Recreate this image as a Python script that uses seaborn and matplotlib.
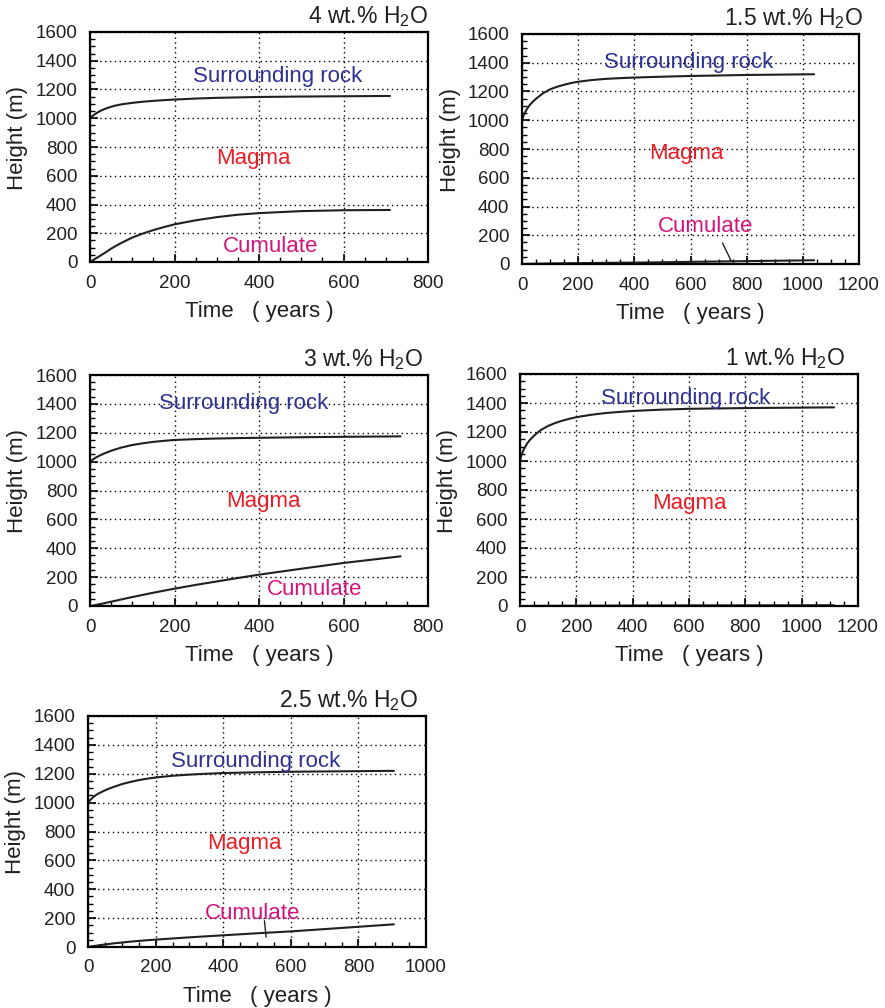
import numpy as np
import pandas as pd
import matplotlib
matplotlib.use("Agg")
import matplotlib.pyplot as plt
from matplotlib.ticker import MultipleLocator
import seaborn as sns

# ---------------- data ----------------
titles = ["4 wt.% H$_2$O", "1.5 wt.% H$_2$O", "3 wt.% H$_2$O", "1 wt.% H$_2$O", "2.5 wt.% H$_2$O"]
xmax_list = [800, 1200, 800, 1200, 1000]

t_4 = [0, 5, 10, 15, 25, 35, 50, 60, 75, 100, 125, 150, 175, 200, 250, 300, 350, 400, 500, 600, 710]
rock_4 = [1000, 1013, 1025, 1035, 1052, 1065, 1080, 1088, 1097, 1107, 1115, 1121, 1126, 1130,
          1137, 1142, 1145, 1148, 1151, 1153, 1155]
cum_4 = [0, 9, 18, 27, 45, 63, 93, 110, 134, 170, 198, 222, 243, 262, 290, 312, 329, 340, 354, 360, 362]

t_15 = [0, 5, 10, 15, 25, 35, 50, 60, 75, 100, 125, 150, 175, 200, 250, 300, 350, 400, 500, 600, 800, 1040]
rock_15 = [1000, 1030, 1052, 1070, 1100, 1122, 1150, 1165, 1188, 1215, 1233, 1247, 1259, 1268,
           1280, 1288, 1293, 1297, 1303, 1308, 1315, 1320]
cum_15 = [0, 0.3, 0.5, 0.8, 1, 1.5, 2, 2.5, 3, 4, 4.5, 5, 5.5, 6, 7, 8, 9, 10, 12, 15, 20, 26]

t_3 = [0, 5, 10, 15, 25, 35, 50, 60, 75, 100, 125, 150, 175, 200, 250, 300, 350, 400, 500, 600, 735]
rock_3 = [1000, 1011, 1021, 1030, 1045, 1058, 1075, 1085, 1098, 1115, 1127, 1137, 1144, 1150,
          1156, 1160, 1163, 1165, 1169, 1172, 1175]
cum_3 = [0, 2, 5, 8, 14, 20, 30, 36, 46, 62, 77, 92, 106, 120, 146, 170, 194, 217, 258, 298, 344]

t_1 = [0, 5, 10, 15, 25, 35, 50, 60, 75, 100, 125, 150, 175, 200, 250, 300, 350, 400, 500, 600, 800, 1115]
rock_1 = [1000, 1040, 1065, 1085, 1120, 1145, 1175, 1192, 1215, 1242, 1262, 1278, 1291, 1302,
          1318, 1330, 1338, 1345, 1354, 1360, 1365, 1370]
cum_1 = [0, 0, 0, 0, 0.2, 0.3, 0.5, 0.6, 0.8, 1, 1.2, 1.4, 1.6, 1.8, 2.1, 2.4, 2.7, 3, 3.5, 4, 4.5, 5]

t_25 = [0, 5, 10, 15, 25, 35, 50, 60, 75, 100, 125, 150, 175, 200, 250, 300, 350, 400, 500, 600, 750, 905]
rock_25 = [1000, 1014, 1026, 1037, 1055, 1068, 1085, 1095, 1108, 1128, 1143, 1156, 1166, 1174,
           1186, 1194, 1200, 1205, 1210, 1214, 1217, 1220]
cum_25 = [0, 2, 4, 6, 9, 13, 17, 20, 25, 31, 37, 42, 47, 51, 59, 67, 74, 81, 95, 108, 132, 157]

series = [(t_4, rock_4, cum_4), (t_15, rock_15, cum_15), (t_3, rock_3, cum_3),
          (t_1, rock_1, cum_1), (t_25, rock_25, cum_25)]

# label positions (data coords): rock, magma, cumulate (None = no label)
label_pos = [
    [(444, 1288), (386, 719), (427, 111)],
    [(594, 1399), (586, 768), (654, 262)],
    [(363, 1403), (411, 726), (531, 116)],
    [(589, 1433), (600, 707), None],
    [(495, 1286), (464, 716), (486, 231)],
]
# leader lines from the "Cumulate" label to its curve
leaders = {1: ([714, 745], [146, 20]), 4: ([522, 527], [182, 68])}

# ---------------- style ----------------
sns.set_style("white")
plt.rcParams['font.family'] = ['Liberation Sans', 'DejaVu Sans']
plt.rcParams['mathtext.fontset'] = 'custom'
plt.rcParams['mathtext.rm'] = 'Liberation Sans'
plt.rcParams['mathtext.it'] = 'Liberation Sans:italic'
plt.rcParams['mathtext.bf'] = 'Liberation Sans:bold'

line_col = "#231F20"
rock_col = "#2E3192"
magma_col = "#ED1C24"
cum_col = "#D4147E"

fig = plt.figure(figsize=(8.85, 10.08), dpi=100)
W, H = 885, 1008
boxes = [(90, 32, 428, 262), (522, 34, 859, 264), (90, 375, 428, 606),
         (520, 374, 858, 606), (88, 716, 426, 947)]
title_dx = [0, 4, -5, -13, -8]

for i, (x0, y0, x1, y1) in enumerate(boxes):
    ax = fig.add_axes([x0 / W, (H - y1) / H, (x1 - x0) / W, (y1 - y0) / H])
    t, rock, cum = series[i]
    df = pd.DataFrame({"Time": t, "rock": rock, "cum": cum})
    sns.lineplot(data=df, x="Time", y="rock", ax=ax, color=line_col, lw=1.5,
                 estimator=None, sort=False)
    sns.lineplot(data=df, x="Time", y="cum", ax=ax, color=line_col, lw=1.5,
                 estimator=None, sort=False)
    if i in leaders:
        lx, ly = leaders[i]
        ax.plot(lx, ly, color=line_col, lw=1.0)

    ax.set_xlim(0, xmax_list[i])
    ax.set_ylim(0, 1600)
    ax.xaxis.set_major_locator(MultipleLocator(200))
    ax.xaxis.set_minor_locator(MultipleLocator(50))
    ax.yaxis.set_major_locator(MultipleLocator(200))
    ax.yaxis.set_minor_locator(MultipleLocator(50))
    ax.tick_params(which='both', direction='in', top=False, right=False,
                   bottom=True, left=True, colors='black', labelcolor='#231F20')
    ax.tick_params(which='major', length=6, width=1.2, labelsize=13.5, pad=9)
    ax.tick_params(which='minor', length=3.5, width=1.0)
    ax.grid(True, which='major', color='black', linestyle=(0, (1, 2.5)), lw=1.0)
    for s in ax.spines.values():
        s.set_color('black')
        s.set_linewidth(1.6)

    ax.set_xlabel("Time   ( years )", fontsize=16, color='#231F20', labelpad=7)
    ax.set_ylabel("Height (m)", fontsize=16, color='#231F20')
    ax.yaxis.set_label_coords(-0.182, 0.54)

    ax.annotate(titles[i], xy=(1, 1), xycoords='axes fraction',
                xytext=(title_dx[i], 9), textcoords='offset pixels',
                ha='right', va='baseline', fontsize=16.5, color='#231F20')

    rp, mp, cp = label_pos[i]
    ax.text(rp[0], rp[1], "Surrounding rock", color=rock_col, fontsize=16,
            ha='center', va='center')
    ax.text(mp[0], mp[1], "Magma", color=magma_col, fontsize=16,
            ha='center', va='center')
    if cp is not None:
        ax.text(cp[0], cp[1], "Cumulate", color=cum_col, fontsize=16,
                ha='center', va='center')

fig.savefig("out.png", dpi=100)
